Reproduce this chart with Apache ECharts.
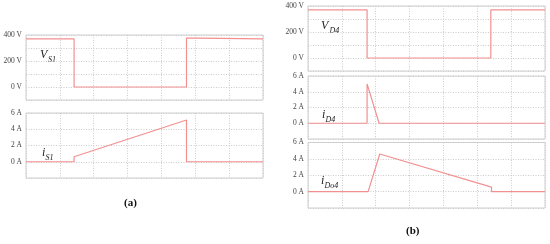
<!DOCTYPE html>
<html>
<head>
<meta charset="utf-8">
<script src="https://cdn.jsdelivr.net/npm/echarts@6/dist/echarts.min.js"></script>
<style>
  html, body { margin: 0; padding: 0; background: #fff; }
  #chart { width: 550px; height: 244px; }
</style>
</head>
<body>
<div id="chart"></div>
<script>
// waveform points [time (grid divisions), value]
var vS1 = [[0, 370], [1.42, 370], [1.42, 0], [4.74, 0], [4.74, 376], [5.1, 376], [5.1, 370], [7, 370]];
var iS1 = [[0, 0], [1.42, 0], [1.42, 0.62], [4.74, 5.14], [4.74, 0], [7, 0]];
var vD4 = [[0, 370], [1.745, 370], [1.745, 0], [5.4, 0], [5.4, 370], [7, 370]];
var iD4 = [[0, 0], [1.745, 0], [1.745, 5.0], [2.1, 0], [7, 0]];
var iDo4 = [[0, 0], [1.775, 0], [2.12, 4.6], [5.42, 0.55], [5.42, 0], [7, 0]];

var voltTicks = [-100, 400, 100];  // min, max, interval
var ampTicks = [-2, 6, 2];

var lineColor = '#f29090';
var serif = '"Liberation Serif", "DejaVu Serif", serif';

var grids = [
	{left: 26, top: 35, width: 237, height: 65},
	{left: 26, top: 113, width: 237, height: 65},
	{left: 308, top: 6, width: 237, height: 65},
	{left: 308, top: 76, width: 237, height: 63},
	{left: 308, top: 142.5, width: 237, height: 65.5}
];
var kinds = ['V', 'A', 'V', 'A', 'A'];
var datas = [vS1, iS1, vD4, iD4, iDo4];

var chart = echarts.init(document.getElementById('chart'));

var option = {
	backgroundColor: '#fff',
	animation: false,
	grid: grids.map(function(g) {
		return {left: g.left, top: g.top, width: g.width, height: g.height,
			show: true, borderColor: '#cfcfcf', borderWidth: 1, backgroundColor: 'transparent'};
	}),
	xAxis: grids.map(function(g, i) {
		return {
			type: 'value', gridIndex: i, min: 0, max: 7, interval: 1,
			axisLine: {show: false}, axisTick: {show: false}, axisLabel: {show: false},
			splitLine: {show: true, lineStyle: {color: '#cccccc', type: [1, 1.5], width: 1}}
		};
	}),
	yAxis: kinds.map(function(k, i) {
		var t = k == 'V' ? voltTicks : ampTicks;
		return {
			type: 'value', gridIndex: i, min: t[0], max: t[1], interval: t[2],
			axisLine: {show: false}, axisTick: {show: false},
			axisLabel: {
				margin: 4, fontFamily: serif, fontSize: 7.5, color: '#444',
				formatter: function(v) {
					if (v < 0) return '';
					if (k == 'V') return v % 200 == 0 ? v + ' V' : '';
					return v + ' A';
				}
			},
			splitLine: {show: true, lineStyle: {color: '#cccccc', type: [1, 1.5], width: 1}}
		};
	}),
	series: datas.map(function(d, i) {
		return {
			type: 'line', xAxisIndex: i, yAxisIndex: i, data: d,
			showSymbol: false, symbol: 'none',
			lineStyle: {color: lineColor, width: 1.2}
		};
	}),
	graphic: [
		{type: 'text', left: 40, top: 49, style: {text: 'V', font: 'italic 12px ' + serif, fill: '#222'}},
		{type: 'text', left: 48, top: 55.5, style: {text: 'S1', font: 'italic 8px ' + serif, fill: '#222'}},
		{type: 'text', left: 42, top: 147, style: {text: 'i', font: 'italic 12px ' + serif, fill: '#222'}},
		{type: 'text', left: 45.5, top: 153.5, style: {text: 'S1', font: 'italic 8px ' + serif, fill: '#222'}},
		{type: 'text', left: 321, top: 20, style: {text: 'V', font: 'italic 12px ' + serif, fill: '#222'}},
		{type: 'text', left: 329.5, top: 26.5, style: {text: 'D4', font: 'italic 8px ' + serif, fill: '#222'}},
		{type: 'text', left: 322, top: 109, style: {text: 'i', font: 'italic 12px ' + serif, fill: '#222'}},
		{type: 'text', left: 325.5, top: 115.5, style: {text: 'D4', font: 'italic 8px ' + serif, fill: '#222'}},
		{type: 'text', left: 321, top: 175, style: {text: 'i', font: 'italic 12px ' + serif, fill: '#222'}},
		{type: 'text', left: 324.5, top: 181.5, style: {text: 'Do4', font: 'italic 8px ' + serif, fill: '#222'}},
		{type: 'text', left: 124, top: 198, style: {text: '(a)', font: 'bold 11px ' + serif, fill: '#111'}},
		{type: 'text', left: 406, top: 226, style: {text: '(b)', font: 'bold 11px ' + serif, fill: '#111'}}
	]
};

chart.setOption(option);
</script>
</body>
</html>
